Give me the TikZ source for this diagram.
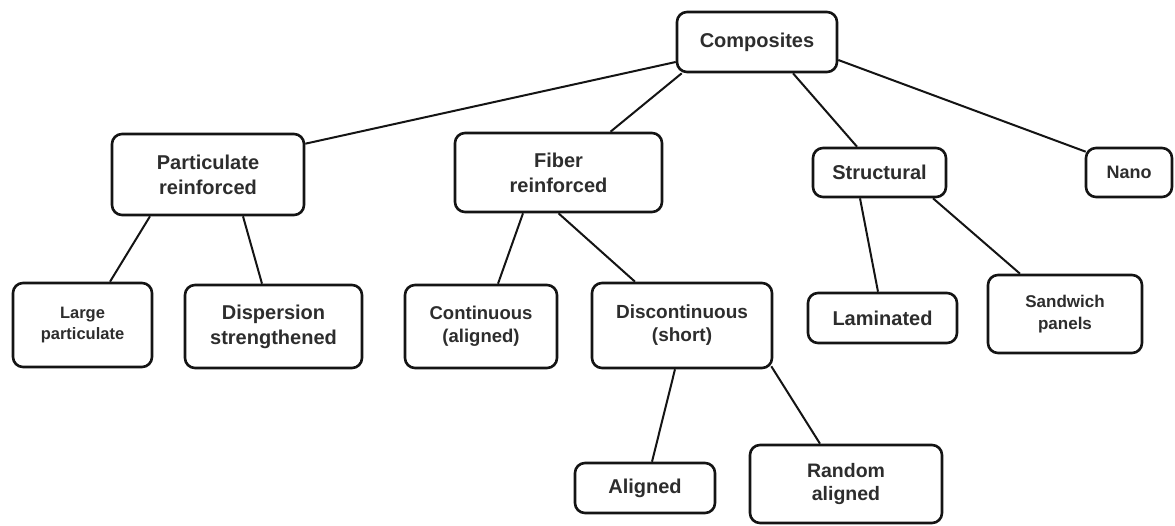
\documentclass[tikz,border=0pt]{standalone}
\usepackage{fontspec}
\setmainfont{Liberation Sans}
\definecolor{txt}{RGB}{45,45,45}
\definecolor{edgec}{RGB}{20,20,20}
\begin{document}
\begin{tikzpicture}[x=1pt,y=-1pt,
  box/.style={draw=edgec, line width=2.6pt, rounded corners=10pt, fill=white, align=center, inner sep=0pt, font=\fontsize{20}{25}\selectfont\bfseries, text=txt},
  smallbox/.style={box, font=\fontsize{17}{22}\selectfont\bfseries},
  link/.style={draw=edgec, line width=2pt}]
\useasboundingbox[fill=white] (0,0) rectangle (1175,525);
% top
\node[box, minimum width=160pt, minimum height=60pt] (comp) at (757,42) {Composites};
% second level
\node[box, minimum width=192pt, minimum height=81pt] (part) at (208,174.5) {Particulate\\reinforced};
\node[box, minimum width=207pt, minimum height=79pt] (fiber) at (558.5,172.5) {Fiber\\reinforced};
\node[box, minimum width=133pt, minimum height=49pt] (struct) at (879.5,172.5) {Structural};
\node[smallbox, font=\fontsize{18}{22}\selectfont\bfseries, minimum width=86pt, minimum height=49pt] (nano) at (1129,172.5) {Nano};
% third level
\node[smallbox, font=\fontsize{16.5}{21.5}\selectfont\bfseries, minimum width=139pt, minimum height=84pt] (large) at (82.5,325) {Large\\particulate};
\node[box, minimum width=177pt, minimum height=83pt] (disp) at (273.5,326.5) {Dispersion\\strengthened};
\node[box, font=\fontsize{18.5}{23}\selectfont\bfseries, minimum width=152pt, minimum height=83pt] (cont) at (481,326.5) {Continuous\\(aligned)};
\node[box, font=\fontsize{19}{23}\selectfont\bfseries, minimum width=180pt, minimum height=85pt] (disc) at (682,325.5) {Discontinuous\\(short)};
\node[box, minimum width=149pt, minimum height=50pt] (lam) at (882.5,318) {Laminated};
\node[smallbox, minimum width=154pt, minimum height=78pt] (sand) at (1065,314) {Sandwich\\panels};
% fourth level
\node[box, minimum width=140pt, minimum height=50pt] (al) at (645,488) {Aligned};
\node[box, font=\fontsize{19.5}{23}\selectfont\bfseries, minimum width=192pt, minimum height=78pt] (rand) at (846,484) {Random\\aligned};
% connectors
\draw[link] ([yshift=-20pt]comp.west) -- ([yshift=-11pt]part.north east);
\draw[link] ([xshift=6pt]comp.south west) -- ([xshift=52pt]fiber.north);
\draw[link] ([xshift=36pt]comp.south) -- ([xshift=-22.5pt]struct.north);
\draw[link] ([yshift=-18pt]comp.east) -- ([xshift=1pt,yshift=-5pt]nano.north west);
\draw[link] ([xshift=-58pt]part.south) -- ([xshift=27.5pt]large.north);
\draw[link] ([xshift=35pt]part.south) -- ([xshift=-11.5pt]disp.north);
\draw[link] ([xshift=-35.5pt]fiber.south) -- ([xshift=17pt]cont.north);
\draw[link] (fiber.south) -- ([xshift=-47pt]disc.north);
\draw[link] ([xshift=-19.5pt]struct.south) -- ([xshift=-4.5pt]lam.north);
\draw[link] ([xshift=53.5pt]struct.south) -- ([xshift=-45pt]sand.north);
\draw[link] ([xshift=-7pt]disc.south) -- ([xshift=7pt]al.north);
\draw[link] ([xshift=-2pt,yshift=3pt]disc.south east) -- ([xshift=-26pt]rand.north);
\end{tikzpicture}
\end{document}
